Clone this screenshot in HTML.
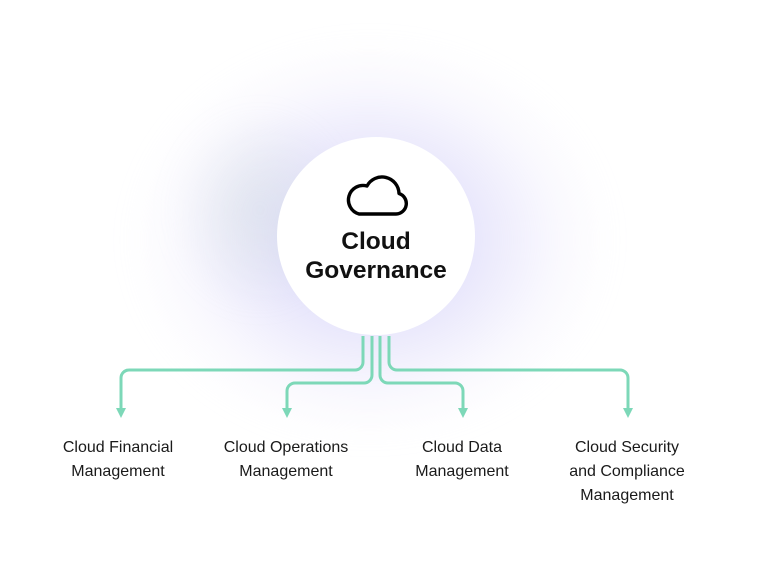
<!DOCTYPE html>
<html><head><style>
html,body{margin:0;padding:0;width:763px;height:586px;background:#fff;overflow:hidden;font-family:"Liberation Sans",sans-serif}
.glow{position:absolute;left:130px;top:40px;width:480px;height:400px;border-radius:50%;
background:radial-gradient(ellipse at 50% 50%,rgba(160,160,240,0.6) 0%,rgba(190,185,245,0.35) 30%,rgba(225,220,250,0.18) 55%,rgba(255,255,255,0) 72%);filter:blur(12px)}
.glow2{position:absolute;left:170px;top:110px;width:180px;height:200px;border-radius:50%;
background:radial-gradient(ellipse,rgba(200,215,215,0.35),rgba(255,255,255,0) 70%);filter:blur(14px)}
.circle{position:absolute;left:277px;top:137px;width:198px;height:198px;border-radius:50%;background:#fff}
.title{position:absolute;left:270px;top:227px;width:212px;text-align:center;font-weight:bold;font-size:24.5px;line-height:29px;color:#111}
.lbl{position:absolute;width:170px;text-align:center;font-size:16px;line-height:24px;color:#1a1a1a}
</style></head><body>
<div class="glow"></div><div class="glow2"></div>
<div class="circle"></div>
<svg style="position:absolute;left:0;top:0" width="763" height="586">
<path d="M359 214 H396 A10.5 10.5 0 0 0 399 193.5 A17 17 0 0 0 367 186 A14.5 14.5 0 0 0 359 214 Z" fill="none" stroke="#000" stroke-width="3.4" stroke-linejoin="round"/>
<g fill="none" stroke="#7dd8b8" stroke-width="3">
<path d="M363 336 V362 a8 8 0 0 1 -8 8 H129 a8 8 0 0 0 -8 8 V412"/>
<path d="M372 336 V375 a8 8 0 0 1 -8 8 H295 a8 8 0 0 0 -8 8 V412"/>
<path d="M380 336 V375 a8 8 0 0 0 8 8 H455 a8 8 0 0 1 8 8 V412"/>
<path d="M389 336 V362 a8 8 0 0 0 8 8 H620 a8 8 0 0 1 8 8 V412"/>
</g>
<g fill="#7dd8b8">
<path d="M116 408 h10 l-5 10 z"/><path d="M282 408 h10 l-5 10 z"/>
<path d="M458 408 h10 l-5 10 z"/><path d="M623 408 h10 l-5 10 z"/>
</g>
</svg>
<div class="title">Cloud<br>Governance</div>
<div class="lbl" style="left:33px;top:436px">Cloud Financial<br>Management</div>
<div class="lbl" style="left:201px;top:436px">Cloud Operations<br>Management</div>
<div class="lbl" style="left:377px;top:436px">Cloud Data<br>Management</div>
<div class="lbl" style="left:542px;top:436px">Cloud Security<br>and Compliance<br>Management</div>
</body></html>
